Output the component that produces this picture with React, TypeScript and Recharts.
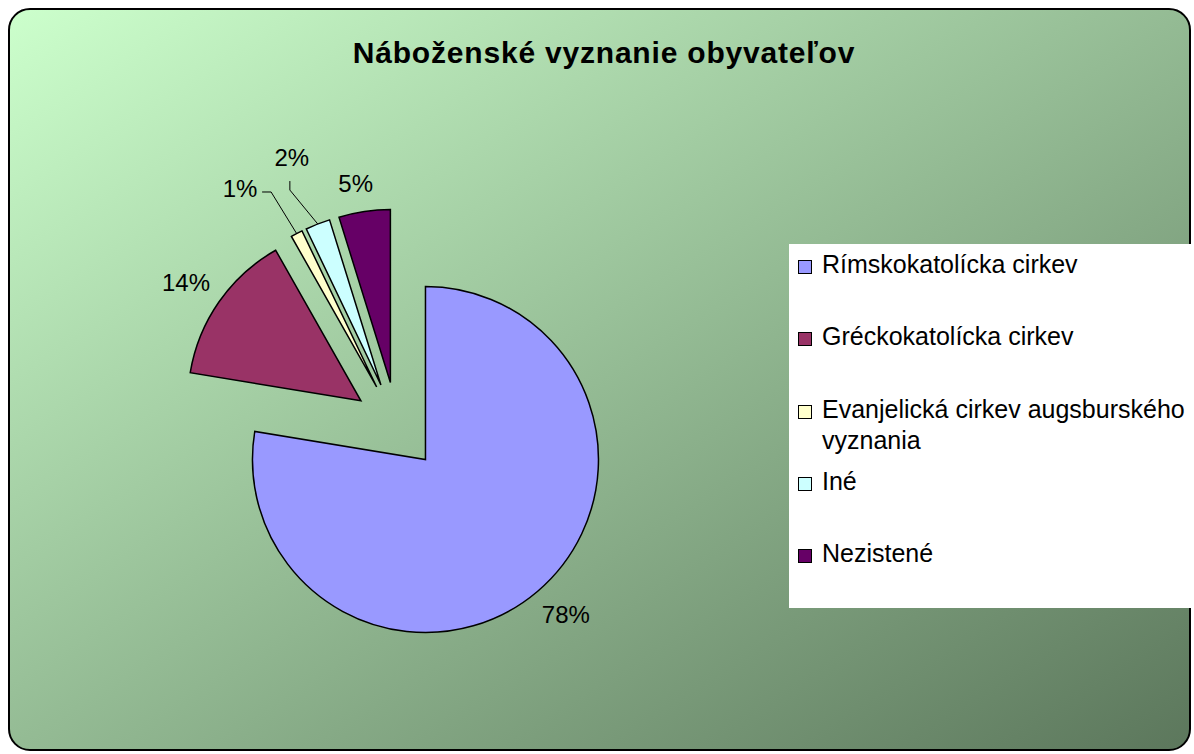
import React from 'react';
import { PieChart, Pie, Cell, Legend } from 'recharts';

const categories = [
  'Rímskokatolícka cirkev',
  'Gréckokatolícka cirkev',
  'Evanjelická cirkev augsburského vyznania',
  'Iné',
  'Nezistené',
];
const shares = [77.6, 14.2, 1.1, 2.3, 4.8];
const sliceColors = ['#9999FF', '#993366', '#FFFFCC', '#CCFFFF', '#660066'];

const FONT = '"Liberation Sans", Arial, sans-serif';
const W = 1194;
const H = 754;
const CX = 397;
const CY = 426;
const R = 173;
const EXPLODE = 44;
const RAD = Math.PI / 180;

// small slices get their labels pulled aside, with a leader line
const labelNudge: [number, number][] = [[0, 0], [3, -2], [-39, -18], [-12, -39], [-3, 2]];
const leaderKind: (string | null)[] = [null, null, 'h', 'v', null];

const chartData = categories.map((name, i) => ({ name, value: shares[i] }));
const total = shares.reduce((a, b) => a + b, 0);

// every slice is pushed out along its own middle angle
const sliceCentres = shares.map((v, i) => {
  const before = shares.slice(0, i).reduce((a, b) => a + b, 0);
  const mid = 90 - (360 * (before + v / 2)) / total;
  return { x: CX + EXPLODE * Math.cos(mid * RAD), y: CY - EXPLODE * Math.sin(mid * RAD) };
});

const makeLabel = (slice: number) => (props: any) => {
  const { index, cx, cy, midAngle, percent } = props;
  if (index !== slice) return null;
  const cos = Math.cos(midAngle * RAD);
  const sin = Math.sin(midAngle * RAD);
  const text = `${Math.round(percent * 100)}%`;
  const halfW = text.length === 3 ? 24 : 18;
  const lx = cx + (R + 20) * cos + halfW * cos + labelNudge[slice][0];
  const ly = cy - (R + 20) * sin - 10 * sin + labelNudge[slice][1];

  let leader = null;
  const ox = cx + R * cos;
  const oy = cy - R * sin;
  if (leaderKind[slice] === 'h') {
    const ex = lx + halfW + 4;
    const ey = ly + 3;
    leader = <polyline points={`${ex},${ey} ${ex + 9},${ey} ${ox},${oy}`} fill="none" stroke="#000" strokeWidth={1} />;
  } else if (leaderKind[slice] === 'v') {
    const ex = lx - 2;
    const ey = ly + 24;
    leader = <polyline points={`${ex},${ey} ${ex},${ey + 9} ${ox},${oy}`} fill="none" stroke="#000" strokeWidth={1} />;
  }

  return (
    <g>
      {leader}
      <text x={lx} y={ly} textAnchor="middle" dominantBaseline="central" fontFamily={FONT} fontSize={24} fill="#000">
        {text}
      </text>
    </g>
  );
};

const renderLegend = () => (
  <div style={{ position: 'relative', width: 405, height: 364, background: '#fff', fontFamily: FONT, fontSize: 25, color: '#000' }}>
    {categories.map((name, i) => (
      <div key={name} style={{ position: 'absolute', left: 9, top: 5 + i * 72.3, display: 'flex', alignItems: 'flex-start', lineHeight: '31px' }}>
        <span style={{ boxSizing: 'border-box', width: 14, height: 14, border: '1px solid #000', background: sliceColors[i], marginTop: 11, flex: 'none' }} />
        <span style={{ marginLeft: 10, width: 370, textAlign: 'left' }}>{name}</span>
      </div>
    ))}
  </div>
);

export default function App() {
  return (
    <div style={{ position: 'relative', width: W, height: H, overflow: 'hidden' }}>
      <style>{'body{margin:0;overflow:hidden}'}</style>
      <div
        style={{
          position: 'absolute', left: 8, top: 8, width: 1183, height: 743, boxSizing: 'border-box',
          border: '2px solid #000', borderRadius: 22,
          background: 'linear-gradient(to bottom right, #ccffcc 0%, #5c775c 100%)',
        }}
      />
      <div
        style={{
          position: 'absolute', left: 0, top: 36, width: W, boxSizing: 'border-box', textAlign: 'center', fontFamily: FONT,
          fontWeight: 'bold', fontSize: 30, letterSpacing: 0.8, lineHeight: '34px', color: '#000', paddingLeft: 14,
        }}
      >
        Náboženské vyznanie obyvateľov
      </div>
      <div style={{ position: 'absolute', left: 0, top: 0 }}>
        <PieChart width={W} height={H} margin={{ top: 0, right: 0, bottom: 0, left: 0 }}>
          {shares.map((_, slice) => (
            <Pie
              key={slice}
              data={chartData}
              dataKey="value"
              nameKey="name"
              cx={sliceCentres[slice].x}
              cy={sliceCentres[slice].y}
              outerRadius={R}
              startAngle={90}
              endAngle={-270}
              label={makeLabel(slice)}
              labelLine={false}
              legendType={slice === 0 ? 'square' : 'none'}
              isAnimationActive={false}
            >
              {chartData.map((d, j) => (
                <Cell
                  key={d.name}
                  fill={j === slice ? sliceColors[j] : 'none'}
                  stroke={j === slice ? '#000' : 'none'}
                  strokeWidth={1.5}
                />
              ))}
            </Pie>
          ))}
          <Legend
            content={renderLegend}
            width={405}
            height={364}
            wrapperStyle={{ left: 789, top: 244, right: 'auto', bottom: 'auto', width: 405, height: 364 }}
          />
        </PieChart>
      </div>
    </div>
  );
}
